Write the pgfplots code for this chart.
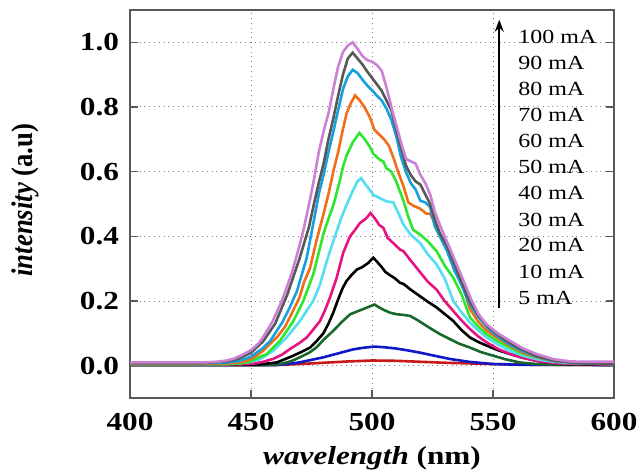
\documentclass[border=0pt]{standalone}
\usepackage{fontspec}
\setmainfont{Liberation Serif}[FakeStretch=1.2]
\newfontfamily\ylfont{Liberation Serif}[FakeStretch=0.89]
\usepackage{pgfplots}
\pgfplotsset{compat=1.18}
\usetikzlibrary{arrows.meta}

\definecolor{c100}{RGB}{204,128,214}
\definecolor{c90}{RGB}{88,88,88}
\definecolor{c80}{RGB}{22,160,222}
\definecolor{c70}{RGB}{240,110,25}
\definecolor{c60}{RGB}{45,230,45}
\definecolor{c50}{RGB}{85,222,242}
\definecolor{c40}{RGB}{230,20,130}
\definecolor{c30}{RGB}{0,0,0}
\definecolor{c20}{RGB}{25,105,45}
\definecolor{c10}{RGB}{15,25,200}
\definecolor{c5}{RGB}{200,25,25}

\begin{document}
\begin{tikzpicture}
\begin{axis}[
  name=ax,
  scale only axis,
  width=242pt, height=194pt,
  xmin=400, xmax=600, ymin=-0.1, ymax=1.1,
  xtick={400,450,500,550,600},
  ytick={0,0.2,0.4,0.6,0.8,1.0},
  yticklabels={0.0,0.2,0.4,0.6,0.8,1.0},
  xtick pos=bottom, ytick pos=both,
  tick align=inside,
  major tick length=4pt,
  tick style={gray!70!black, line width=0.6pt},
  axis line style={gray!70!black, line width=0.6pt},
  grid=major,
  grid style={dotted, gray, line width=0.5pt},
  /pgf/number format/assume math mode=true,
  tick label style={font=\fontsize{13}{15}\selectfont\bfseries},
  xticklabel style={anchor=center, yshift=-12pt},
  yticklabel style={xshift=-2pt},
  xlabel={{\itshape wavelength} (nm)},
  xlabel style={font=\fontsize{13}{15}\selectfont\bfseries, at={(axis description cs:0.5,0)}, anchor=center, yshift=-30pt},
  ylabel={{\itshape intensity} (a.u)},
  ylabel style={font=\ylfont\fontsize{15}{17}\selectfont\bfseries, at={(axis description cs:-0.217,0.51)}, anchor=center},
  every axis plot/.append style={line width=1.3pt},
  clip=true,
]
% 5 mA
\addplot[c5] coordinates {(400,0.002) (460,0.002) (470,0.005) (480,0.009) (490,0.013) (500,0.016) (510,0.015) (520,0.012) (530,0.009) (540,0.007) (550,0.005) (565,0.003) (600,0.002)};
% 10 mA
\addplot[c10] coordinates {(400,0.002) (460,0.002) (465,0.005) (470,0.010) (475,0.018) (480,0.026) (484,0.034) (488,0.042) (492,0.050) (496,0.055) (501,0.059) (505,0.057) (510,0.053) (515.7,0.046) (520,0.040) (525,0.032) (532,0.021) (540,0.012) (550,0.005) (560,0.003) (600,0.002)};
% 20 mA
\addplot[c20] coordinates {(400,0.002) (455,0.002) (460,0.004) (463.3,0.007) (467,0.015) (470.2,0.026) (474,0.040) (477,0.056) (480,0.080) (484,0.108) (487.5,0.135) (491,0.159) (494,0.168) (497,0.177) (499,0.183) (501,0.189) (503,0.180) (505,0.172) (507.4,0.164) (510.2,0.159) (513,0.157) (515.7,0.154) (519,0.140) (524,0.116) (528,0.098) (532.2,0.082) (536,0.068) (540.5,0.056) (545,0.042) (550,0.031) (555,0.020) (561,0.010) (568,0.005) (575,0.003) (600,0.002)};
% 30 mA
\addplot[c30] coordinates {(400,0.003) (450,0.003) (455,0.005) (460.6,0.010) (464,0.020) (467.5,0.031) (471,0.043) (474.4,0.056) (477,0.075) (479.9,0.100) (482,0.130) (484,0.164) (485.5,0.195) (486.8,0.220) (488,0.242) (489.5,0.262) (491.5,0.280) (493.7,0.297) (496,0.305) (498.5,0.318) (500.5,0.334) (502,0.322) (504,0.305) (505.5,0.290) (507.4,0.280) (509.5,0.270) (511.6,0.256) (513,0.253) (516,0.235) (519.8,0.215) (523,0.198) (526.7,0.180) (530,0.160) (533.6,0.138) (537,0.110) (540.5,0.087) (544,0.073) (547.4,0.062) (552,0.048) (557,0.036) (562,0.025) (568,0.015) (575,0.008) (582,0.004) (600,0.003)};
% 40 mA
\addplot[c40] coordinates {(400,0.004) (445,0.004) (451,0.006) (455,0.012) (459.2,0.021) (463,0.035) (466,0.051) (470,0.070) (473,0.087) (475,0.105) (478.5,0.138) (480.5,0.170) (482.6,0.210) (485.4,0.272) (488.1,0.349) (490.9,0.400) (493,0.420) (495,0.441) (497.5,0.455) (499.4,0.472) (501.5,0.452) (503,0.435) (504.7,0.426) (506.5,0.395) (508.8,0.379) (511.6,0.359) (513,0.354) (516,0.325) (519.8,0.290) (523,0.260) (526.7,0.235) (530,0.200) (533.6,0.169) (537,0.140) (540.5,0.113) (544,0.090) (547.4,0.072) (552,0.052) (557,0.036) (562,0.025) (568,0.015) (575,0.008) (585,0.005) (600,0.004)};
% 50 mA
\addplot[c50] coordinates {(400,0.005) (440,0.005) (445,0.007) (450,0.012) (453.7,0.020) (459.2,0.046) (464.7,0.087) (470.2,0.138) (473,0.170) (475.7,0.200) (478.5,0.251) (481.3,0.323) (484,0.385) (486.8,0.446) (488,0.470) (489.5,0.497) (492,0.540) (494,0.570) (495.5,0.580) (497,0.564) (499,0.544) (500.6,0.528) (503.3,0.518) (506,0.508) (508.8,0.505) (511,0.470) (513,0.436) (516,0.405) (519.8,0.380) (523,0.345) (526.7,0.313) (530,0.270) (533.6,0.200) (537,0.165) (540.5,0.133) (544,0.108) (547.4,0.087) (552,0.065) (557,0.046) (562,0.032) (568,0.020) (575,0.012) (582,0.008) (600,0.005)};
% 60 mA
\addplot[c60] coordinates {(400,0.005) (440,0.005) (445,0.007) (449.6,0.012) (453,0.025) (456.5,0.036) (459,0.055) (462,0.077) (465,0.110) (467.5,0.138) (471.6,0.200) (475.7,0.282) (478.5,0.364) (480,0.410) (482.6,0.467) (484,0.495) (486.8,0.575) (488,0.615) (489.5,0.650) (492,0.690) (494.8,0.720) (497,0.700) (499,0.678) (500.6,0.655) (503,0.638) (504.7,0.631) (506,0.610) (508,0.600) (510,0.570) (513,0.510) (515,0.460) (517,0.420) (520,0.405) (523,0.385) (526.7,0.354) (530,0.310) (533.6,0.272) (537,0.220) (540.5,0.149) (544,0.120) (547.4,0.097) (552,0.075) (557,0.056) (562,0.038) (568,0.026) (575,0.015) (585,0.010) (600,0.006)};
% 70 mA
\addplot[c70] coordinates {(400,0.006) (440,0.007) (445,0.010) (448,0.015) (451,0.025) (455,0.046) (458,0.068) (461,0.090) (464,0.120) (466,0.149) (470,0.210) (472,0.260) (474.4,0.302) (477,0.385) (480,0.470) (482,0.530) (484,0.600) (486,0.660) (487.5,0.715) (489.5,0.780) (491,0.808) (493,0.836) (495,0.820) (497,0.798) (499,0.770) (501,0.730) (503,0.715) (505,0.700) (507,0.680) (509,0.640) (511,0.595) (513,0.555) (515,0.505) (517,0.495) (520,0.485) (522.5,0.470) (524,0.470) (526,0.440) (529.5,0.385) (533.6,0.323) (537,0.260) (540.5,0.175) (544,0.135) (547.4,0.108) (552,0.085) (557,0.062) (562,0.042) (568,0.026) (575,0.015) (585,0.008) (600,0.005)};
% 80 mA
\addplot[c80] coordinates {(400,0.008) (435,0.008) (440,0.010) (445,0.014) (450,0.028) (455,0.055) (458,0.077) (463,0.135) (466,0.180) (469,0.231) (473,0.333) (476,0.450) (478,0.530) (480,0.590) (482,0.660) (484,0.723) (486,0.790) (488,0.855) (490,0.895) (492,0.915) (494,0.905) (496,0.885) (498,0.867) (500,0.852) (502,0.835) (504,0.820) (506,0.795) (508,0.760) (510,0.710) (512,0.645) (514,0.600) (516,0.565) (518,0.545) (520,0.510) (522,0.505) (524,0.490) (526,0.430) (528,0.400) (531,0.355) (534,0.295) (537,0.250) (540,0.195) (544,0.150) (548,0.115) (552,0.090) (557,0.065) (562,0.046) (568,0.028) (575,0.015) (585,0.008) (600,0.005)};
% 90 mA
\addplot[c90] coordinates {(400,0.008) (430,0.008) (440,0.013) (445,0.022) (450,0.040) (455,0.075) (460,0.130) (465,0.220) (470,0.330) (474,0.430) (476,0.500) (478,0.565) (480,0.625) (482,0.700) (484,0.764) (486,0.835) (488,0.900) (490,0.950) (492,0.968) (494,0.950) (496,0.932) (498,0.910) (500,0.890) (502,0.870) (504,0.850) (506,0.820) (508,0.790) (510,0.730) (512,0.675) (514,0.620) (516,0.590) (518,0.570) (520,0.560) (522,0.530) (524,0.500) (526,0.450) (528,0.410) (531,0.370) (534,0.315) (537,0.260) (540,0.205) (544,0.155) (548,0.120) (552,0.095) (557,0.070) (562,0.050) (568,0.030) (575,0.016) (585,0.008) (600,0.006)};
% 100 mA
\addplot[c100] coordinates {(400,0.010) (420,0.010) (430,0.010) (436,0.012) (440,0.016) (443,0.022) (446,0.032) (450,0.048) (453,0.068) (455,0.088) (459,0.138) (463,0.205) (467,0.290) (470,0.370) (472,0.430) (474,0.500) (476,0.575) (478,0.660) (480,0.725) (482,0.780) (484,0.855) (486,0.925) (488,0.970) (490,0.990) (492,1.000) (494,0.980) (496,0.958) (498,0.945) (500,0.940) (502,0.930) (504,0.912) (506,0.860) (508,0.800) (510,0.745) (512,0.690) (514,0.640) (516,0.632) (518,0.625) (520,0.590) (522,0.565) (524,0.530) (526,0.475) (528,0.436) (531,0.383) (535,0.313) (539,0.241) (541,0.205) (544,0.160) (547,0.130) (552,0.100) (557,0.077) (562,0.055) (568,0.036) (575,0.020) (582,0.013) (590,0.012) (600,0.012)};

\draw[-{Stealth[length=6pt,width=4.5pt]}, line width=1pt] (axis cs:552.6,0.178) -- (axis cs:552.6,1.07);
\node[anchor=west, inner sep=0pt, font=\fontsize{10}{12}\selectfont] at (axis cs:560.3,1.018) {100 mA};
\node[anchor=west, inner sep=0pt, font=\fontsize{10}{12}\selectfont] at (axis cs:560.3,0.937) {90 mA};
\node[anchor=west, inner sep=0pt, font=\fontsize{10}{12}\selectfont] at (axis cs:560.3,0.856) {80 mA};
\node[anchor=west, inner sep=0pt, font=\fontsize{10}{12}\selectfont] at (axis cs:560.3,0.776) {70 mA};
\node[anchor=west, inner sep=0pt, font=\fontsize{10}{12}\selectfont] at (axis cs:560.3,0.695) {60 mA};
\node[anchor=west, inner sep=0pt, font=\fontsize{10}{12}\selectfont] at (axis cs:560.3,0.614) {50 mA};
\node[anchor=west, inner sep=0pt, font=\fontsize{10}{12}\selectfont] at (axis cs:560.3,0.533) {40 mA};
\node[anchor=west, inner sep=0pt, font=\fontsize{10}{12}\selectfont] at (axis cs:560.3,0.452) {30 mA};
\node[anchor=west, inner sep=0pt, font=\fontsize{10}{12}\selectfont] at (axis cs:560.3,0.372) {20 mA};
\node[anchor=west, inner sep=0pt, font=\fontsize{10}{12}\selectfont] at (axis cs:560.3,0.291) {10 mA};
\node[anchor=west, inner sep=0pt, font=\fontsize{10}{12}\selectfont] at (axis cs:560.3,0.210) {5 mA};
\end{axis}
\pgfresetboundingbox
\path ([xshift=-65pt,yshift=-35.5pt]ax.south west) rectangle ([xshift=12.5pt,yshift=5pt]ax.north east);
\end{tikzpicture}
\end{document}
